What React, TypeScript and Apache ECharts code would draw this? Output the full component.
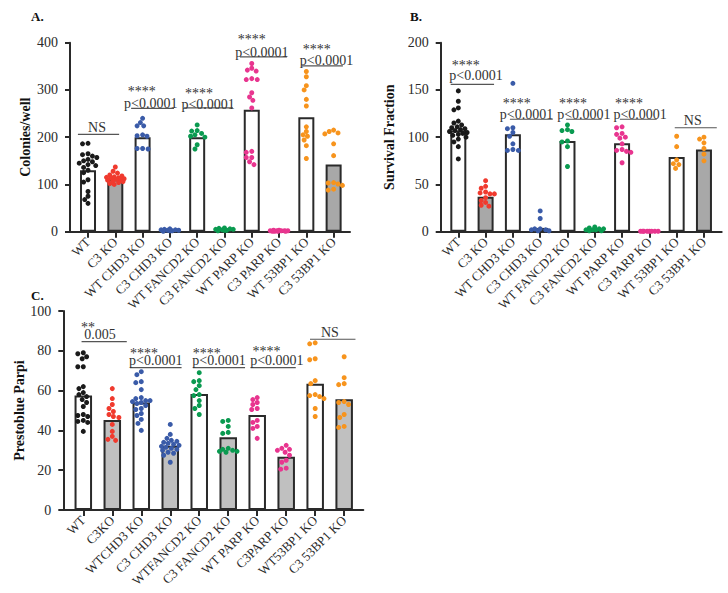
import React, { useEffect, useRef } from "react";
import * as echarts from "echarts";

const FONT = '"Liberation Serif", "DejaVu Serif", serif';
const INK = "#2a2a2a";

const catsA = ["WT", "C3 KO", "WT CHD3 KO", "C3 CHD3 KO", "WT FANCD2 KO", "C3 FANCD2 KO", "WT PARP KO", "C3 PARP KO", "WT 53BP1 KO", "C3 53BP1 KO"];
const catsB = ["WT", "C3 KO", "WT CHD3 KO", "C3 CHD3 KO", "WT FANCD2 KO", "C3 FANCD2 KO", "WT PARP KO", "C3 PARP KO", "WT 53BP1 KO", "C3 53BP1 KO"];
const catsC = ["WT", "C3KO", "WTCHD3 KO", "C3 CHD3 KO", "WTFANCD2 KO", "C3 FANCD2 KO", "WT PARP KO", "C3PARP KO", "WT53BP1 KO", "C3 53BP1 KO"];

const groupColors = ["#1a1a1a", "#f03a2e", "#3a5ba8", "#3a5ba8", "#0a9a50", "#0a9a50", "#e8358f", "#e8358f", "#f7941d", "#f7941d"];

const yTicksA = [0, 100, 200, 300, 400];
const yTicksB = [0, 50, 100, 150, 200];
const yTicksC = [0, 20, 40, 60, 80, 100];

const barsA = [130, 111, 200, 3, 200, 4, 258, 2, 242, 142];
const pointsA = [
  [187, 186, 165, 163, 160, 157, 153, 150, 148, 145, 142, 140, 136, 130, 125, 110, 105, 85, 75, 68, 60],
  [137, 128, 124, 120, 118, 116, 115, 114, 113, 112, 111, 110, 109, 108, 106, 104, 102, 100],
  [240, 231, 224, 224, 205, 203, 202, 176, 175, 176],
  [3, 5, 6, 4, 2, 3, 1, 2, 4],
  [226, 214, 213, 208, 205, 202, 200, 184, 175],
  [8, 7, 5, 4, 3, 3, 2, 5, 6],
  [356, 346, 342, 340, 324, 322, 322, 294, 285, 278, 262, 170, 168, 157, 157, 148, 142],
  [2, 1, 3, 2, 1, 2, 1, 3, 2, 2, 1],
  [339, 328, 309, 300, 280, 266, 222, 212, 205, 202, 194, 182, 155],
  [215, 212, 209, 207, 186, 161, 104, 103, 101, 98, 90, 88],
];

const barsB = [107, 37, 103, 4, 96, 1, 93.5, 0.5, 79, 87];
const pointsB = [
  [149, 138, 131, 129, 117, 115, 113, 111, 110, 109, 108, 107, 106, 105, 104, 103, 102, 100, 98, 95, 90, 77],
  [54, 48, 46, 42, 41, 40, 40, 36, 33, 31, 28, 27],
  [157, 110, 109, 105, 101, 93, 87, 86, 86],
  [22, 14, 3, 2, 1, 2, 3, 1],
  [113, 108, 107, 106, 96, 95, 90, 69],
  [5, 4, 3, 2, 2, 1, 1, 3, 2],
  [111, 110, 104, 103, 100, 99, 93, 87, 86, 85, 84, 73],
  [0.5, 0.5, 0.5, 0.5, 0.5, 0.5, 0.5, 0.5],
  [101, 90, 76, 72, 71, 67],
  [100, 98, 94, 88, 82, 75],
];

const barsC = [57.5, 45.2, 54, 32.3, 58.3, 36.5, 47.7, 26.8, 63.5, 55.6];
const pointsC = [
  [79, 78.5, 77, 76, 72, 72, 62, 61, 59, 58, 57, 55.5, 54, 52, 48, 47.5, 47, 45, 44.5, 44, 39.5],
  [61, 56, 53, 51, 49.5, 48, 47, 46.5, 43, 39.5, 37, 35.5, 35],
  [69.5, 68, 64.5, 64, 60.5, 56.5, 56, 55, 55, 54.5, 54, 53.5, 52.5, 51, 50.5, 48.5, 47.5, 45.5, 43.5, 40],
  [43, 38, 36, 35, 34.5, 34, 33.5, 33, 32.5, 32, 31.5, 31, 30.5, 30, 29, 28.5, 27.5, 24],
  [69, 65, 64.5, 62.5, 60.5, 58, 57.5, 55, 52.5, 51, 48],
  [45, 44.5, 42, 39, 38.5, 31, 30.5, 30, 29.5, 29.5, 29],
  [56.5, 55.5, 54, 53, 51, 50.5, 45, 44, 42, 41, 36],
  [32.5, 31, 30.5, 30, 29, 27.5, 25, 24, 21, 20.5],
  [84, 83.5, 76, 75.5, 65, 63.5, 58, 57.5, 57, 56, 51, 47],
  [77, 66.5, 63.5, 63, 54.5, 54, 53, 48, 46.5, 42, 41.5],
];

// significance brackets: [x1, x2, y] and labels [text, x, y] in data units
const annotA = [
  { line: [-0.37, 1.14, 206], texts: [["NS", 0.33, 221]] },
  { line: [1.58, 3.15, 261], texts: [["****", 1.97, 296], ["p<0.0001", 2.3, 272]] },
  { line: [3.52, 5.31, 262], texts: [["****", 4.07, 292], ["p<0.0001", 4.4, 270]] },
  { line: [5.57, 7.29, 370], texts: [["****", 6.0, 406], ["p<0.0001", 6.37, 380]] },
  { line: [7.84, 9.34, 351], texts: [["****", 8.38, 385], ["p<0.0001", 8.74, 363]] },
];
const annotB = [
  { line: [-0.28, 1.31, 156], texts: [["****", 0.27, 176], ["p<0.0001", 0.65, 165]] },
  { line: [1.89, 3.46, 119], texts: [["****", 2.14, 136], ["p<0.0001", 2.5, 124]] },
  { line: [3.95, 5.25, 119], texts: [["****", 4.2, 136], ["p<0.0001", 4.6, 124]] },
  { line: [5.92, 7.27, 119], texts: [["****", 6.25, 136], ["p<0.0001", 6.66, 124]] },
  { line: [7.93, 9.47, 110], texts: [["NS", 8.59, 117.5]] },
];
const annotC = [
  { line: [-0.06, 1.5, 84.6], texts: [["**", 0.16, 91.5], ["0.005", 0.58, 88]] },
  { line: [1.61, 3.39, 71.5], texts: [["****", 2.09, 78.5], ["p<0.0001", 2.5, 75]] },
  { line: [3.78, 5.58, 71.5], texts: [["****", 4.26, 78.5], ["p<0.0001", 4.68, 75]] },
  { line: [5.77, 7.33, 71.5], texts: [["****", 6.32, 79.5], ["p<0.0001", 6.68, 75]] },
  { line: [7.82, 9.39, 85.8], texts: [["NS", 8.51, 89]] },
];

const panels = [
  { label: "A.", labelPos: [31, 16], cats: catsA, bars: barsA, pts: pointsA, ticks: yTicksA, yName: "Colonies/well", nameGap: 38, gray: "#a8a8a8", grid: { left: 70, top: 42.7, width: 280, height: 189 }, xMin: -0.66, xMax: 9.6, barW: 16, annot: annotA },
  { label: "B.", labelPos: [410, 16], cats: catsB, bars: barsB, pts: pointsB, ticks: yTicksB, yName: "Survival Fraction", nameGap: 44, gray: "#a8a8a8", grid: { left: 440.7, top: 42.7, width: 281, height: 189 }, xMin: -0.645, xMax: 9.65, barW: 16, annot: annotB },
  { label: "C.", labelPos: [31, 295], cats: catsC, bars: barsC, pts: pointsC, ticks: yTicksC, yName: "Prestoblue Parpi", nameGap: 34, gray: "#c0c0c0", grid: { left: 63.3, top: 311, width: 300, height: 199 }, xMin: -0.69, xMax: 9.66, barW: 17.5, annot: annotC },
];

// beeswarm-like horizontal spread (in pixels) so dots barely overlap
function swarm(values: number[], pxPerY: number, diam: number, maxOff: number): number[] {
  const order = values.map((v, i) => i).sort((a, b) => values[b] - values[a]);
  const placed: { x: number; y: number }[] = [];
  const out = new Array(values.length).fill(0);
  order.forEach((idx) => {
    const yp = values[idx] * pxPerY;
    let chosen = 0;
    let bestScore = Infinity;
    for (let k = 0; k < 40; k++) {
      const cand = (k % 2 === 1 ? -1 : 1) * Math.ceil(k / 2) * 1.1;
      if (Math.abs(cand) > maxOff) break;
      let minD = Infinity;
      placed.forEach((p) => {
        const d = Math.hypot(p.x - cand, p.y - yp);
        if (d < minD) minD = d;
      });
      if (minD >= diam) { chosen = cand; bestScore = -1; break; }
      const score = -minD;
      if (score < bestScore) { bestScore = score; chosen = cand; }
    }
    placed.push({ x: chosen, y: yp });
    out[idx] = chosen;
  });
  return out;
}

function buildOption() {
  const grid: any[] = [];
  const xAxis: any[] = [];
  const yAxis: any[] = [];
  const series: any[] = [];
  panels.forEach((p, g) => {
    grid.push({ ...p.grid, containLabel: false });
    const idx = p.cats.map((_, i) => i);
    xAxis.push({
      type: "value",
      gridIndex: g,
      min: p.xMin,
      max: p.xMax,
      splitLine: { show: false },
      axisLine: { show: true, onZero: false, lineStyle: { color: INK, width: 2 } },
      axisTick: { show: true, customValues: idx, length: 6, lineStyle: { color: INK, width: 2 } },
      axisLabel: {
        customValues: idx,
        formatter: (v: number) => p.cats[Math.round(v)] ?? "",
        rotate: 45,
        margin: 8,
        fontFamily: FONT,
        fontSize: 13,
        color: INK,
      },
    });
    const yMax = p.ticks[p.ticks.length - 1];
    yAxis.push({
      type: "value",
      gridIndex: g,
      min: 0,
      max: yMax,
      interval: p.ticks[1] - p.ticks[0],
      splitLine: { show: false },
      axisLine: { show: true, onZero: false, lineStyle: { color: INK, width: 2 } },
      axisTick: { show: true, length: 5, lineStyle: { color: INK, width: 2 } },
      axisLabel: { margin: 12, fontFamily: FONT, fontSize: 14, color: INK },
      name: p.yName,
      nameLocation: "middle",
      nameGap: p.nameGap,
      nameTextStyle: { fontFamily: FONT, fontSize: 14, fontWeight: "bold", color: "#111" },
    });
    series.push({
      type: "bar",
      xAxisIndex: g,
      yAxisIndex: g,
      barWidth: p.barW,
      z: 2,
      data: p.bars.map((v, i) => ({
        value: [i, v],
        itemStyle: { color: i % 2 === 1 ? p.gray : "#ffffff", borderColor: INK, borderWidth: 2 },
      })),
    });
    const pxPerY = p.grid.height / yMax;
    const pxPerX = p.grid.width / (p.xMax - p.xMin);
    p.pts.forEach((vals, i) => {
      const offs = swarm(vals, pxPerY, 4.6, 9);
      series.push({
        type: "scatter",
        xAxisIndex: g,
        yAxisIndex: g,
        symbol: "circle",
        symbolSize: 5,
        z: 5,
        itemStyle: { color: groupColors[i], opacity: 1 },
        data: vals.map((v, k) => [i + offs[k] / pxPerX, v]),
      });
    });
  });
  return { animation: false, backgroundColor: "#ffffff", grid, xAxis, yAxis, series };
}

function buildGraphics(chart: any) {
  const els: any[] = [];
  panels.forEach((p, g) => {
    els.push({
      type: "text",
      x: p.labelPos[0],
      y: p.labelPos[1],
      style: { text: p.label, font: `bold 13px ${FONT}`, fill: "#111", align: "left", verticalAlign: "middle", textAlign: "left", textVerticalAlign: "middle" },
    });
    p.annot.forEach((a: any) => {
      const p1 = chart.convertToPixel({ gridIndex: g }, [a.line[0], a.line[2]]);
      const p2 = chart.convertToPixel({ gridIndex: g }, [a.line[1], a.line[2]]);
      els.push({
        type: "line",
        shape: { x1: p1[0], y1: p1[1], x2: p2[0], y2: p2[1] },
        style: { stroke: "#555", lineWidth: 1.2 },
        z: 10,
      });
      a.texts.forEach((t: any) => {
        const pt = chart.convertToPixel({ gridIndex: g }, [t[1], t[2]]);
        els.push({
          type: "text",
          x: pt[0],
          y: pt[1],
          z: 11,
          style: { text: t[0], font: `14px ${FONT}`, fill: "#333", align: "center", verticalAlign: "middle", textAlign: "center", textVerticalAlign: "middle" },
        });
      });
    });
  });
  return els;
}

export default function App() {
  const ref = useRef<HTMLDivElement>(null);
  useEffect(() => {
    const chart = echarts.init(ref.current!, null, { renderer: "svg" });
    chart.setOption(buildOption());
    chart.setOption({ graphic: buildGraphics(chart) });
    return () => chart.dispose();
  }, []);
  return <div ref={ref} style={{ position: "absolute", left: 0, top: 0, width: 728, height: 593, background: "#fff" }} />;
}
